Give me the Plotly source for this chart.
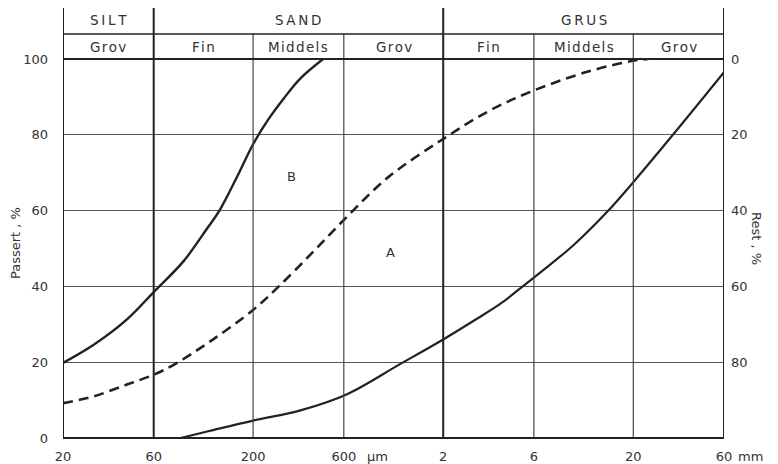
import numpy as np
import plotly.graph_objects as go

# ---- data (grain size in µm, passing %) ----
B_size = [20, 29, 43.4, 60, 86, 115, 133, 165, 200, 240, 290, 355, 467]
B_pass = [19.8, 24.6, 31.3, 38.5, 46.6, 55.4, 60, 69, 77.5, 84, 89.6, 94.9, 100]

A_size = [20, 29, 43.4, 60, 76.4, 119, 200, 273, 417, 650, 1033, 2000, 3515, 6000, 11970, 20300, 24000]
A_pass = [9.2, 11, 14.1, 16.7, 19.3, 25.5, 33.8, 40, 49.3, 59.3, 68.9, 78.9, 86.4, 91.7, 96.9, 99.6, 100]

C_size = [83, 119, 200, 355, 620, 1167, 2000, 2865, 3970, 5240, 9750, 14660, 20000, 31850, 60000]
C_pass = [0, 1.9, 4.6, 7.3, 11.5, 19.3, 26, 30.8, 35.3, 40, 51, 59.8, 67.5, 79.6, 96.5]

x_tickvals = [20, 60, 200, 600, 2000, 6000, 20000, 60000]
x_ticktext = ["20", "60", "200", "600", "2", "6", "20", "60"]
y_ticks = [0, 20, 40, 60, 80, 100]
rest_ticks = [0, 20, 40, 60, 80]

# header classes (boundaries in µm)
top_labels = [("SILT", 20, 60), ("SAND", 60, 2000), ("GRUS", 2000, 60000)]
sub_labels = [("Grov", 20, 60), ("Fin", 60, 200), ("Middels", 200, 600), ("Grov", 600, 2000),
              ("Fin", 2000, 6000), ("Middels", 6000, 20000), ("Grov", 20000, 60000)]

INK = "#222222"
TXT = "#333333"
FONT = "DejaVu Sans"

OFF = 8                      # page body margin
W, H = 778 - OFF, 464 - OFF
ML = 63 - OFF
MT = 59 - OFF
MR = W - (724 - OFF)
MB = H - (438 - OFF)
PW, PH = W - ML - MR, H - MT - MB

def px_to_paper_x(px):
    return (px - OFF - ML) / PW

def px_to_paper_y(py):
    return (H - MB - (py - OFF)) / PH

fig = go.Figure()
fig.add_trace(go.Scatter(x=B_size, y=B_pass, mode="lines",
                         line=dict(color=INK, width=2.4, shape="spline", smoothing=1.0),
                         showlegend=False, hoverinfo="skip"))
fig.add_trace(go.Scatter(x=A_size, y=A_pass, mode="lines",
                         line=dict(color=INK, width=2.6, dash="10px,6px", shape="spline", smoothing=1.0),
                         showlegend=False, hoverinfo="skip"))
fig.add_trace(go.Scatter(x=C_size, y=C_pass, mode="lines",
                         line=dict(color=INK, width=2.2, shape="spline", smoothing=1.0),
                         showlegend=False, hoverinfo="skip"))
# invisible trace to anchor the right (Rest) axis
fig.add_trace(go.Scatter(x=[20], y=[0], yaxis="y2", mode="markers",
                         marker=dict(opacity=0), showlegend=False, hoverinfo="skip"))

H1 = px_to_paper_y(34)   # middle header line
H2 = px_to_paper_y(7)    # top header line

shapes = []
for v in x_tickvals:
    if v in (20, 60, 2000, 60000):
        shapes.append(dict(type="line", xref="x", yref="paper", x0=v, x1=v, y0=0, y1=H2,
                           line=dict(color=INK, width=2)))
    else:
        shapes.append(dict(type="line", xref="x", yref="paper", x0=v, x1=v, y0=0, y1=H1,
                           line=dict(color="#444444", width=1.2)))
for yy, w in [(H2, 2), (H1, 1.6), (1, 2.2), (0, 2.2)]:
    shapes.append(dict(type="line", xref="x", yref="paper", x0=20, x1=60000, y0=yy, y1=yy,
                       line=dict(color=INK, width=w)))

ann = []
def spaced(s, sep):
    return sep.join(s)

for t, a, b in top_labels:
    ann.append(dict(x=(np.log10(a) + np.log10(b)) / 2, y=(H1 + H2) / 2, xref="x", yref="paper",
                    xanchor="center", yanchor="middle",
                    text=spaced(t, "\u2009"), showarrow=False, font=dict(family=FONT, size=13.5, color=TXT)))
for t, a, b in sub_labels:
    ann.append(dict(x=(np.log10(a) + np.log10(b)) / 2, y=(1 + H1) / 2, xref="x", yref="paper",
                    xanchor="center", yanchor="middle",
                    text=spaced(t, "\u200a"), showarrow=False, font=dict(family=FONT, size=13.5, color=TXT)))
# unit labels
ann.append(dict(x=np.log10(600), y=0, xref="x", yref="paper", text="µm", showarrow=False,
                xanchor="left", yanchor="top", xshift=21, yshift=-9,
                font=dict(family=FONT, size=13, color=TXT)))
ann.append(dict(x=np.log10(60000), y=0, xref="x", yref="paper", text="mm", showarrow=False,
                xanchor="left", yanchor="top", xshift=12, yshift=-9,
                font=dict(family=FONT, size=13, color=TXT)))
# curve labels
ann.append(dict(x=np.log10(1056), y=49, xref="x", yref="y", text="A", showarrow=False,
                font=dict(family=FONT, size=13, color=TXT)))
ann.append(dict(x=np.log10(317), y=69, xref="x", yref="y", text="B", showarrow=False,
                font=dict(family=FONT, size=13, color=TXT)))
# axis titles
ann.append(dict(x=px_to_paper_x(16), y=px_to_paper_y(243), xref="paper", yref="paper",
                xanchor="center", yanchor="middle",
                text="Passert , %", showarrow=False, textangle=-90,
                font=dict(family=FONT, size=13, color=TXT)))
ann.append(dict(x=px_to_paper_x(757), y=px_to_paper_y(238), xref="paper", yref="paper",
                xanchor="center", yanchor="middle",
                text="Rest , %", showarrow=False, textangle=90,
                font=dict(family=FONT, size=13, color=TXT)))

fig.update_layout(
    width=W, height=H,
    margin=dict(l=ML, r=MR, t=MT, b=MB, autoexpand=False),
    paper_bgcolor="white", plot_bgcolor="white",
    shapes=shapes, annotations=ann,
    xaxis=dict(type="log", range=[np.log10(20), np.log10(60000)], automargin=False,
               tickvals=x_tickvals, ticktext=x_ticktext, showgrid=False, zeroline=False,
               showline=False, ticks="", ticklabelstandoff=9,
               tickfont=dict(family=FONT, size=13, color=TXT)),
    yaxis=dict(range=[0, 100], tickvals=y_ticks, showgrid=True, gridcolor="#555555", gridwidth=1.4,
               zeroline=False, showline=False, ticks="", ticklabelstandoff=14, automargin=False,
               tickfont=dict(family=FONT, size=13, color=TXT)),
    yaxis2=dict(overlaying="y", side="right", range=[100, 0], tickvals=rest_ticks, automargin=False,
                showgrid=False, zeroline=False, showline=False, ticks="", ticklabelstandoff=6,
                tickfont=dict(family=FONT, size=13, color=TXT)),
)

fig.write_html("out.html")
